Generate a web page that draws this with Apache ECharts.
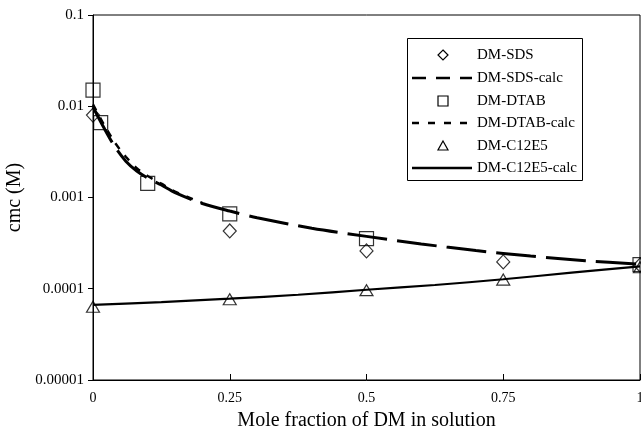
<!DOCTYPE html>
<html>
<head>
<meta charset="utf-8">
<script src="https://cdn.jsdelivr.net/npm/echarts@6/dist/echarts.min.js"></script>
<style>
  html, body { margin: 0; padding: 0; background: #fff; }
  #chart { width: 641px; height: 434px; }
</style>
</head>
<body>
<div id="chart"></div>
<script>
// cmc of DM mixtures vs mole fraction of DM (log y axis)

const FONT = "'Liberation Serif', 'DejaVu Serif', serif";

// measured points [mole fraction, cmc (M)]
const sdsPoints = [[0, 0.008], [0.25, 0.00043], [0.5, 0.00026], [0.75, 0.000197], [1, 0.000182]];
const dtabPoints = [[0, 0.015], [0.014, 0.0066], [0.1, 0.00143], [0.25, 0.00066], [0.5, 0.000355], [1, 0.000184]];
const c12e5Points = [[0, 0.0000635], [0.25, 0.0000768], [0.5, 0.0000965], [0.75, 0.000126], [1, 0.000172]];

// calculated curves
const calcX = [0, 0.02, 0.04, 0.06, 0.08, 0.1, 0.125, 0.15, 0.2, 0.25, 0.3, 0.4, 0.5, 0.6, 0.7, 0.8, 0.9, 1];
const sdsCalc = [0.0098, 0.0058, 0.0036, 0.0025, 0.00195, 0.00163, 0.00137, 0.00113, 0.00086, 0.00071, 0.0006, 0.00046, 0.000375, 0.00031, 0.000262, 0.000228, 0.000203, 0.000186];
// DTAB curve only visible apart from the SDS curve near x = 0
const dtabCalcX = [0, 0.02, 0.04, 0.06, 0.08, 0.1, 0.125, 0.15, 0.2];
const dtabCalc = [0.0105, 0.0063, 0.004, 0.0028, 0.0021, 0.00172, 0.00142, 0.00116, 0.00087];
const c12e5CalcX = [0, 0.125, 0.25, 0.375, 0.5, 0.625, 0.75, 0.875, 1];
const c12e5Calc = [0.0000665, 0.0000715, 0.0000778, 0.000086, 0.0000975, 0.00011, 0.000127, 0.00015, 0.000176];

const xTicks = [0, 0.25, 0.5, 0.75, 1];
const legendNames = ['DM-SDS', 'DM-SDS-calc', 'DM-DTAB', 'DM-DTAB-calc', 'DM-C12E5', 'DM-C12E5-calc'];

const pairs = (xs, ys) => xs.map((x, i) => [x, ys[i]]);

const markerStyle = { color: 'rgba(0,0,0,0)', borderColor: '#000', borderWidth: 1.2 };

// legend box drawn with graphic elements so the markers keep their shape
function legendGraphic() {
  const left = 407, top = 38, w = 175, h = 142;
  const symX = 443, lineX0 = 412, lineX1 = 472, textX = 477;
  const rowY = [55, 78, 101, 123, 146, 168];
  const stroke = { stroke: '#000', lineWidth: 1.2, fill: 'none' };
  const kids = [{
    type: 'rect', shape: { x: left + 0.5, y: top + 0.5, width: w, height: h },
    style: { fill: '#fff', stroke: '#000', lineWidth: 1 }
  }];
  const icons = [
    y => ({ type: 'polygon', shape: { points: [[symX, y - 5], [symX + 5, y], [symX, y + 5], [symX - 5, y]] }, style: stroke }),
    y => ({ type: 'line', shape: { x1: lineX0, y1: y, x2: lineX1, y2: y }, style: { stroke: '#000', lineWidth: 2.6, lineDash: [14, 10] } }),
    y => ({ type: 'rect', shape: { x: symX - 5, y: y - 5, width: 10, height: 10 }, style: stroke }),
    y => ({ type: 'line', shape: { x1: lineX0, y1: y, x2: lineX1, y2: y }, style: { stroke: '#000', lineWidth: 2.6, lineDash: [7, 9] } }),
    y => ({ type: 'polygon', shape: { points: [[symX, y - 5], [symX + 5, y + 4], [symX - 5, y + 4]] }, style: stroke }),
    y => ({ type: 'line', shape: { x1: lineX0, y1: y, x2: lineX1, y2: y }, style: { stroke: '#000', lineWidth: 2.6 } })
  ];
  legendNames.forEach((name, i) => {
    kids.push(icons[i](rowY[i]));
    kids.push({
      type: 'text', x: textX, y: rowY[i],
      style: { text: name, font: '15px ' + FONT, fill: '#000', verticalAlign: 'middle', align: 'left' }
    });
  });
  return [{ type: 'group', children: kids, z: 100 }];
}

const chart = echarts.init(document.getElementById('chart'), null, { renderer: 'canvas' });

chart.setOption({
  animation: false,
  backgroundColor: '#fff',
  textStyle: { fontFamily: FONT, color: '#000' },
  grid: {
    left: 93, right: 1, top: 15, bottom: 54,
    outerBoundsMode: 'none', containLabel: false,
    show: true, borderColor: '#000', borderWidth: 1
  },
  graphic: legendGraphic(),
  xAxis: {
    type: 'value', min: 0, max: 1, interval: 0.25,
    name: 'Mole fraction of DM in solution',
    nameLocation: 'middle', nameGap: 31,
    nameTextStyle: { fontFamily: FONT, fontSize: 20, color: '#000' },
    axisLine: { lineStyle: { color: '#000', width: 1 } },
    axisTick: { inside: true, length: 6, lineStyle: { color: '#000' } },
    axisLabel: {
      fontFamily: FONT, fontSize: 14, color: '#000', margin: 11,
      formatter: v => (xTicks.includes(v) ? String(v) : '')
    },
    splitLine: { show: false }
  },
  yAxis: {
    type: 'log', logBase: 10, min: 0.00001, max: 0.1,
    name: 'cmc (M)',
    nameLocation: 'middle', nameGap: 53,
    nameTextStyle: { fontFamily: FONT, fontSize: 20, color: '#000' },
    axisLine: { lineStyle: { color: '#000', width: 1 } },
    axisTick: { length: 5, lineStyle: { color: '#000' } },
    axisLabel: {
      fontFamily: FONT, fontSize: 15, color: '#000', margin: 9,
      formatter: v => String(parseFloat(Number(v).toPrecision(1)))
    },
    splitLine: { show: false }
  },
  series: [
    {
      name: 'DM-SDS-calc', type: 'line', data: pairs(calcX, sdsCalc),
      showSymbol: false, symbol: 'none', smooth: 0.3,
      lineStyle: { color: '#000', width: 3, type: [40, 10] }, z: 2
    },
    {
      name: 'DM-DTAB-calc', type: 'line', data: pairs(dtabCalcX, dtabCalc),
      showSymbol: false, symbol: 'none', smooth: 0.3,
      lineStyle: { color: '#000', width: 2.4, type: [7, 8] }, z: 2
    },
    {
      name: 'DM-C12E5-calc', type: 'line', data: pairs(c12e5CalcX, c12e5Calc),
      showSymbol: false, symbol: 'none', smooth: 0.3,
      lineStyle: { color: '#000', width: 2.2, type: 'solid' }, z: 2
    },
    {
      name: 'DM-SDS', type: 'scatter', data: sdsPoints,
      symbol: 'diamond', symbolSize: [13, 14], itemStyle: markerStyle, z: 3
    },
    {
      name: 'DM-DTAB', type: 'scatter', data: dtabPoints,
      symbol: 'rect', symbolSize: 14, itemStyle: markerStyle, z: 3
    },
    {
      name: 'DM-C12E5', type: 'scatter', data: c12e5Points,
      symbol: 'triangle', symbolSize: [13, 11], itemStyle: markerStyle, z: 3
    }
  ]
});
</script>
</body>
</html>
